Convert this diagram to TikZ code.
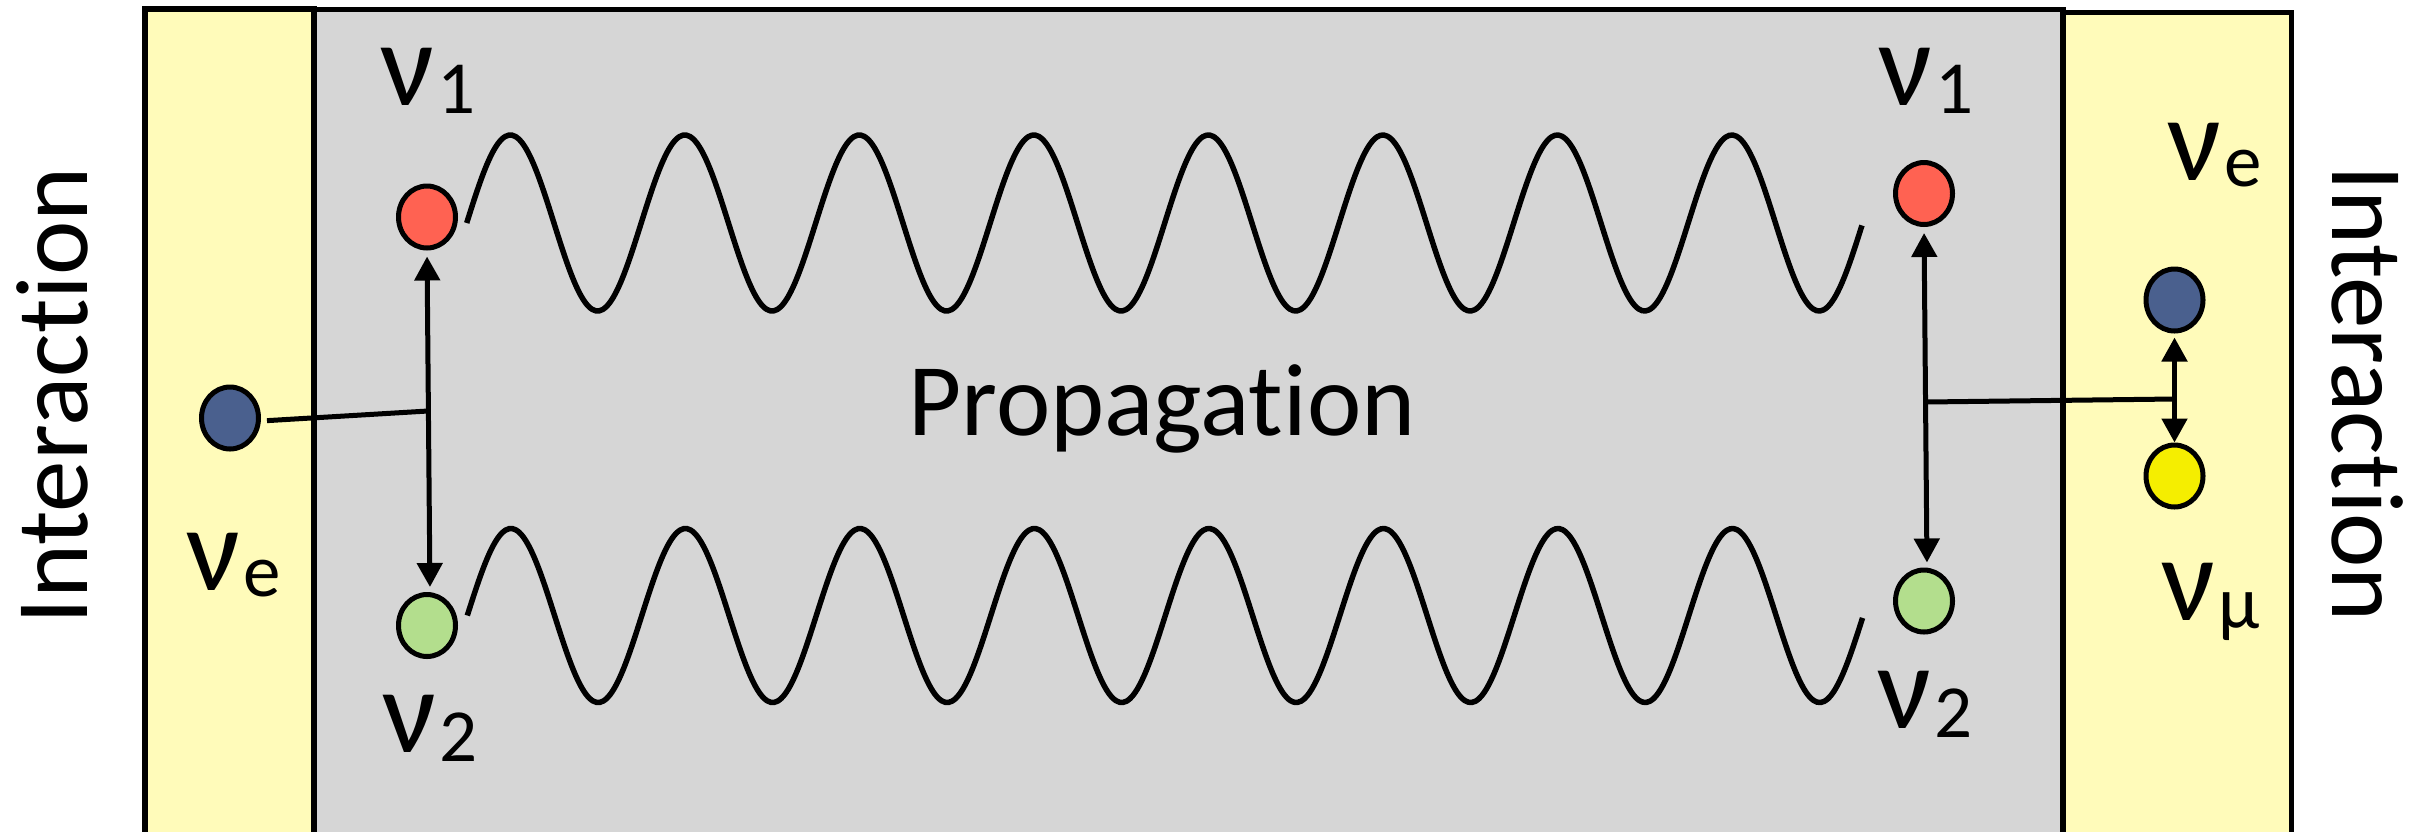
\documentclass[tikz,border=0pt]{standalone}
\usepackage{fontspec}
\setmainfont{Carlito}[Ligatures=NoCommon]
\usetikzlibrary{arrows.meta,shapes.geometric}
\definecolor{boxyellow}{RGB}{255,251,186}
\definecolor{boxgrey}{RGB}{214,214,214}
\definecolor{nured}{RGB}{255,98,82}
\definecolor{nugreen}{RGB}{179,222,141}
\definecolor{nublue}{RGB}{74,96,142}
\definecolor{nuyellow}{RGB}{245,238,0}
\newcommand\nusub[2]{{\fontsize{120}{120}\selectfont ν}\kern3pt\raisebox{-#2}{\fontsize{75}{75}\selectfont #1}}
\begin{document}
\begin{tikzpicture}[x=1pt,y=-1pt,
  region/.style={draw=black,line width=5.5pt},
  particle/.style={ellipse,draw=black,line width=5pt,minimum width=57pt,minimum height=62pt,inner sep=0pt},
  lab/.style={anchor=base west,inner sep=0pt},
  bigtext/.style={inner sep=0pt,font=\fontsize{103}{110}\selectfont},
  wave/.style={line width=5.5pt},
  conn/.style={line width=5pt},
  dbl/.style={conn,{Triangle[length=24pt,width=25pt]}-{Triangle[length=24pt,width=25pt]}}
]
\useasboundingbox (0,0) rectangle (2426,831);
\fill[white] (0,0) rectangle (2426,831);
\clip (0,0) rectangle (2426,831);
% regions
\path[region,fill=boxgrey] (314,9.5) rectangle (2063,850);
\path[region,fill=boxyellow] (145,9.2) rectangle (314,850);
\path[region,fill=boxyellow] (2063,12.5) rectangle (2291.5,850);
% side texts
\node[bigtext,rotate=90] (intl) at (52,396) {Interaction};
\node[bigtext,rotate=-90] (intr) at (2368,393.5) {Interaction};
\node[bigtext,anchor=base] (prop) at (1162,435.7) {Propagation};
% waves
\draw[wave] plot[domain=0:8,samples=401,smooth] ({466.7+174.5*\x},{223-88*sin(360*\x)});
\draw[wave] plot[domain=0:8,samples=401,smooth] ({467.3+174.5*\x},{615.5-87*sin(360*\x)});
% particles
\node[particle,fill=nured] (r1) at (427,217) {};
\node[particle,fill=nugreen] (g1) at (427,625.5) {};
\node[particle,fill=nublue] (b1) at (230,418) {};
\node[particle,fill=nured] (r2) at (1924,193.5) {};
\node[particle,fill=nugreen] (g2) at (1924,601) {};
\node[particle,fill=nublue] (b2) at (2174.5,300) {};
\node[particle,fill=nuyellow] (y2) at (2174.5,476) {};
% labels
\node[lab] (ln1) at (380,105) {\nusub{1}{8pt}};
\node[lab] (ln2) at (382,752) {\nusub{2}{9pt}};
\node[lab] (lne) at (186,590) {\nusub{e}{6pt}};
\node[lab] (rn1) at (1878,105) {\nusub{1}{8pt}};
\node[lab] (rn2) at (1877,728.5) {\nusub{2}{9pt}};
\node[lab] (rne) at (2167,180) {\nusub{e}{6.5pt}};
\node[lab] (rnm) at (2161,620) {\nusub{μ}{8pt}};
% connectors
\coordinate (j1) at (428,411);
\coordinate (j2) at (1926,402);
\coordinate (j3) at (2174.5,399);
\draw[dbl,shorten <=6pt,shorten >=5pt] (r1.south) -- ([xshift=3pt]g1.north);
\draw[conn,shorten <=6pt] ([yshift=-3pt]b1.east) -- (j1);
\draw[dbl,shorten <=6pt,shorten >=5pt] (r2.south) -- ([xshift=3pt]g2.north);
\draw[conn] (j2) -- (j3);
\draw[dbl,shorten <=4pt,shorten >=0pt] (b2.south) -- (y2.north);
\end{tikzpicture}
\end{document}
